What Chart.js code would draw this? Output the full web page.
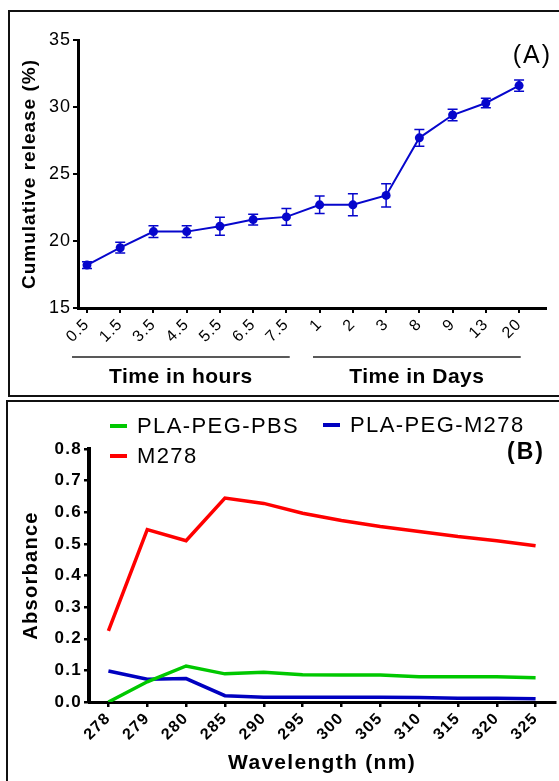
<!DOCTYPE html>
<html><head><meta charset="utf-8">
<script src="https://cdn.jsdelivr.net/npm/chart.js@4/dist/chart.umd.min.js"></script>
<style>
html,body{margin:0;padding:0;width:559px;height:781px;overflow:hidden;background:#fff;font-family:"Liberation Sans",Arial,sans-serif;}
.box{position:absolute;border:2px solid #111;box-sizing:border-box;}
canvas{position:absolute;left:0;}
.lbl{position:absolute;white-space:nowrap;color:#000;}
.sw{position:absolute;height:4px;width:17px;}
</style></head><body>
<div class="box" style="left:8px;top:10px;width:600px;height:387px"></div>
<div class="box" style="left:6px;top:400px;width:600px;height:420px"></div>
<canvas id="cA" width="559" height="398" style="top:0"></canvas>
<canvas id="cB" width="559" height="380" style="top:401px"></canvas>
<div class="lbl" style="right:7px;top:42px;font-size:25px;line-height:25px;letter-spacing:2px">(A)</div>
<div class="lbl" style="right:14px;top:440px;font-size:23px;line-height:23px;font-weight:bold;letter-spacing:2px">(B)</div>
<div id="legendB"></div>
<script>
// ---------- Panel A data ----------
const hourLabels = ['0.5','1.5','3.5','4.5','5.5','6.5','7.5'];
const dayLabels = ['1','2','3','8','9','13','20'];
const timeLabels = hourLabels.concat(dayLabels);
const releaseMean = [18.2,19.5,20.7,20.7,21.1,21.6,21.8,22.7,22.7,23.4,27.7,29.4,30.3,31.6];
const releaseErr  = [0.25,0.4,0.43,0.43,0.68,0.4,0.62,0.65,0.82,0.87,0.62,0.43,0.36,0.42];
const groupNames = ['Time in hours','Time in Days'];

// ---------- Panel B data ----------
const wavelengths = ['278','279','280','285','290','295','300','305','310','315','320','325'];
const seriesNames = ['PLA-PEG-PBS','PLA-PEG-M278','M278'];
const pbsValues    = [0.000,0.064,0.114,0.089,0.094,0.086,0.085,0.085,0.080,0.080,0.080,0.077];
const pegM278Values= [0.098,0.072,0.074,0.020,0.015,0.015,0.015,0.015,0.014,0.012,0.012,0.010];
const m278Values   = [0.225,0.545,0.510,0.645,0.628,0.597,0.574,0.555,0.539,0.523,0.510,0.494];

const FAMILY = '"Liberation Sans", Arial, sans-serif';
const BLUE_A = '#0606cc';
const seriesColors = ['#00c800','#0000c0','#ff0000'];

const spacing = (px) => ({
  id: 'ls',
  beforeLayout(chart){ chart.ctx.letterSpacing = px + 'px'; },
  beforeDraw(chart){ chart.ctx.letterSpacing = px + 'px'; }
});

const errorBars = {
  id: 'errorBars',
  afterDatasetsDraw(chart){
    const {ctx, scales:{x, y}} = chart;
    ctx.save();
    ctx.strokeStyle = BLUE_A; ctx.lineWidth = 1.5;
    releaseMean.forEach((v, i) => {
      const px = x.getPixelForValue(i);
      const t = y.getPixelForValue(v + releaseErr[i]);
      const b = y.getPixelForValue(v - releaseErr[i]);
      ctx.beginPath();
      ctx.moveTo(px, t); ctx.lineTo(px, b);
      ctx.moveTo(px - 5, t); ctx.lineTo(px + 5, t);
      ctx.moveTo(px - 5, b); ctx.lineTo(px + 5, b);
      ctx.stroke();
    });
    ctx.restore();
  }
};

const groups = {
  id: 'groups',
  afterDraw(chart){
    const {ctx, scales:{x}} = chart;
    const spans = [[-0.45, hourLabels.length - 0.9], [hourLabels.length - 0.2, timeLabels.length - 0.95]];
    ctx.save();
    ctx.strokeStyle = '#222'; ctx.lineWidth = 1.5;
    ctx.fillStyle = '#000';
    ctx.letterSpacing = '0.5px';
    ctx.font = 'bold 21px ' + FAMILY;
    ctx.textAlign = 'center'; ctx.textBaseline = 'middle';
    spans.forEach((s, k) => {
      const a = x.getPixelForValue(s[0]), b = x.getPixelForValue(s[1]);
      ctx.beginPath(); ctx.moveTo(a, 357); ctx.lineTo(b, 357); ctx.stroke();
      ctx.fillText(groupNames[k], (a + b) / 2, 377);
    });
    ctx.restore();
  }
};

const axisCommon = {
  grid: { drawOnChartArea:false, drawTicks:true, tickLength:5, color:'#000', lineWidth:2 },
  border: { display:true, color:'#000', width:3 }
};

new Chart(document.getElementById('cA'), {
  type: 'line',
  data: { datasets: [{
    data: releaseMean.map((v, i) => ({x: i, y: v})),
    borderColor: BLUE_A, backgroundColor: BLUE_A,
    borderWidth: 2, pointRadius: 4.5, pointBorderWidth: 0, tension: 0
  }]},
  options: {
    responsive:false, devicePixelRatio:1, animation:false, events:[],
    layout: { padding: { top:40, right:13, left:0, bottom:0 } },
    plugins: { legend:{display:false}, tooltip:{enabled:false} },
    scales: {
      x: Object.assign({}, axisCommon, {
        type:'linear', min:-0.27, max:13.81,
        afterBuildTicks: s => { s.ticks = timeLabels.map((_, i) => ({value: i})); },
        ticks: { autoSkip:false, minRotation:45, maxRotation:45, color:'#000', padding:2,
                 font:{ size:16, family:FAMILY }, callback: v => timeLabels[v] },
        afterFit: s => { s.height = 90; }
      }),
      y: Object.assign({}, axisCommon, {
        min:15, max:35,
        ticks: { stepSize:5, color:'#000', padding:2, font:{ size:18, family:FAMILY } },
        title: { display:true, text:'Cumulative release (%)', color:'#000',
                 font:{ size:19, weight:'bold', family:FAMILY }, padding:{top:18, bottom:0} },
        afterFit: s => { s.width = 78; }
      })
    }
  },
  plugins: [spacing(1), errorBars, groups]
});

const bValues = [pbsValues, pegM278Values, m278Values];
new Chart(document.getElementById('cB'), {
  type: 'line',
  data: {
    labels: wavelengths,
    datasets: seriesNames.map((name, k) => ({
      label: name, data: bValues[k],
      borderColor: seriesColors[k], backgroundColor: seriesColors[k],
      borderWidth: 3.5, pointRadius: 0, tension: 0
    }))
  },
  options: {
    responsive:false, devicePixelRatio:1, animation:false, events:[],
    layout: { padding: { top:48, right:4, left:0, bottom:0 } },
    plugins: { legend:{display:false}, tooltip:{enabled:false} },
    scales: {
      x: {
        type:'category', offset:true,
        grid: { drawOnChartArea:false, drawTicks:true, tickLength:5, color:'#000', lineWidth:2.5, offset:false },
        border: { display:true, color:'#000', width:3 },
        ticks: { autoSkip:false, minRotation:45, maxRotation:45, color:'#000', padding:2,
                 font:{ size:16, weight:'bold', family:FAMILY } },
        title: { display:true, text:'Wavelength (nm)', color:'#000',
                 font:{ size:21, weight:'bold', family:FAMILY }, padding:{top:0, bottom:5} },
        afterFit: s => { s.height = 79; }
      },
      y: {
        min:0, max:0.8,
        grid: { drawOnChartArea:false, drawTicks:true, tickLength:5, color:'#000', lineWidth:2.5 },
        border: { display:true, color:'#000', width:4 },
        ticks: { stepSize:0.1, color:'#000', padding:2, callback: v => v.toFixed(1),
                 font:{ size:17, weight:'bold', family:FAMILY } },
        title: { display:true, text:'Absorbance', color:'#000',
                 font:{ size:20, weight:'bold', family:FAMILY }, padding:{top:19, bottom:0} },
        afterFit: s => { s.width = 89; }
      }
    }
  },
  plugins: [spacing(1.3)]
});

// HTML legend for panel B
const legendPos = [[110, 415], [323, 414], [110, 445]];
const leg = document.getElementById('legendB');
seriesNames.forEach((name, k) => {
  const [lx, ly] = legendPos[k];
  const sw = document.createElement('div');
  sw.className = 'sw';
  sw.style.left = lx + 'px'; sw.style.top = (ly + 9) + 'px';
  sw.style.background = seriesColors[k];
  leg.appendChild(sw);
  const t = document.createElement('div');
  t.className = 'lbl';
  t.style.left = (lx + 27) + 'px'; t.style.top = ly + 'px';
  t.style.fontSize = '22px'; t.style.lineHeight = '22px'; t.style.letterSpacing = '1.4px';
  t.textContent = name;
  leg.appendChild(t);
});
</script>
</body></html>
